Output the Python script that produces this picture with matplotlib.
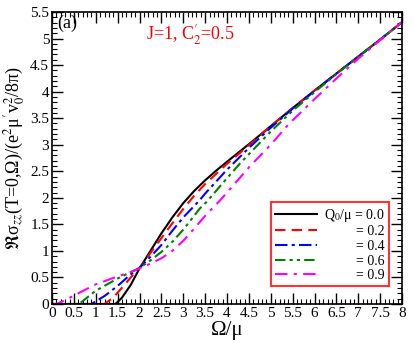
import matplotlib
matplotlib.use("Agg")
import matplotlib.pyplot as plt
from matplotlib.ticker import MultipleLocator, FormatStrFormatter

plt.rcParams['font.family'] = ['Liberation Serif', 'DejaVu Serif']
plt.rcParams['mathtext.fontset'] = 'stix'

# Q0/mu = 0.0
x_q00 = [0.0, 1.45, 1.6, 1.8, 2.0, 2.25, 2.5, 2.75, 3.0, 3.25, 3.5, 3.75, 4.0, 4.5, 5.0, 5.5, 6.0, 6.5, 7.0, 7.5, 8.0]
y_q00 = [0.0, 0.0, 0.12, 0.36, 0.67, 1.0, 1.33, 1.63, 1.9, 2.13, 2.33, 2.51, 2.68, 3.01, 3.35, 3.69, 4.02, 4.34, 4.66, 4.98, 5.31]
# Q0/mu = 0.2
x_q02 = [0.0, 1.2, 1.4, 1.55, 1.8, 2.0, 2.25, 2.5, 2.75, 3.0, 3.25, 3.5, 4.0, 4.5, 5.0, 5.5, 6.0, 6.5, 7.0, 7.5, 8.0]
y_q02 = [0.0, 0.0, 0.12, 0.26, 0.5, 0.68, 0.96, 1.24, 1.52, 1.79, 2.04, 2.26, 2.64, 2.99, 3.35, 3.69, 4.02, 4.34, 4.66, 4.98, 5.31]
# Q0/mu = 0.4
x_q04 = [0.0, 0.9, 1.2, 1.5, 1.8, 2.0, 2.25, 2.5, 2.75, 3.0, 3.38, 3.5, 4.0, 4.5, 5.0, 5.5, 6.0, 6.5, 7.0, 7.5, 8.0]
y_q04 = [0.0, 0.0, 0.15, 0.34, 0.56, 0.68, 0.89, 1.11, 1.38, 1.63, 1.96, 2.08, 2.53, 2.94, 3.32, 3.68, 4.01, 4.34, 4.66, 4.98, 5.31]
# Q0/mu = 0.6
x_q06 = [0.0, 0.62, 0.8, 1.0, 1.5, 2.0, 2.25, 2.5, 2.75, 3.0, 3.38, 3.54, 4.0, 4.3, 5.0, 5.5, 6.0, 6.5, 7.0, 7.5, 8.0]
y_q06 = [0.0, 0.0, 0.12, 0.25, 0.48, 0.68, 0.82, 0.98, 1.17, 1.4, 1.8, 1.93, 2.37, 2.65, 3.25, 3.64, 3.99, 4.33, 4.66, 4.98, 5.31]
# Q0/mu = 0.9
x_q09 = [0.0, 0.1, 0.3, 0.5, 1.0, 1.5, 1.8, 2.0, 2.25, 2.5, 2.75, 3.0, 3.25, 3.5, 3.84, 4.0, 4.53, 5.0, 5.4, 6.0, 6.58, 7.0, 7.5, 8.0]
y_q09 = [0.0, 0.0, 0.07, 0.16, 0.37, 0.52, 0.6, 0.67, 0.76, 0.86, 1.0, 1.19, 1.42, 1.66, 1.95, 2.1, 2.6, 3.0, 3.38, 3.86, 4.31, 4.62, 4.97, 5.31]

labels = [r'Q$_0$/μ = 0.0', '= 0.2', '= 0.4', '= 0.6', '= 0.9']

fig = plt.figure(figsize=(4.15, 3.46), dpi=100)
ax = fig.add_axes([0.1253, 0.1214, 0.8434, 0.8439])

lw = 1.5
ax.plot(x_q00, y_q00, color='black', lw=lw, ls='-', label=labels[0])
ax.plot(x_q02, y_q02, color='red', lw=lw, ls=(0, (5, 3)), label=labels[1])
ax.plot(x_q04, y_q04, color='blue', lw=lw, ls=(0, (6, 2, 1.5, 2)), label=labels[2])
ax.plot(x_q06, y_q06, color='green', lw=lw, ls=(0, (5, 2, 1.5, 2, 1.5, 2)), label=labels[3])
ax.plot(x_q09, y_q09, color='magenta', lw=lw, ls=(0, (6, 3, 1.5, 3)), label=labels[4])

ax.set_xlim(0, 8)
ax.set_ylim(0, 5.5)
ax.xaxis.set_major_locator(MultipleLocator(0.5))
ax.xaxis.set_minor_locator(MultipleLocator(0.1))
ax.yaxis.set_major_locator(MultipleLocator(0.5))
ax.yaxis.set_minor_locator(MultipleLocator(0.1))
ax.xaxis.set_major_formatter(FormatStrFormatter('%g'))
ax.yaxis.set_major_formatter(FormatStrFormatter('%g'))
ax.tick_params(which='both', direction='in', top=True, right=True, labelsize=11, pad=2)
ax.tick_params(which='major', length=8, width=1)
ax.tick_params(which='minor', length=3.5, width=0.8)
for s in ax.spines.values():
    s.set_linewidth(1.2)

ax.set_xlabel('Ω/μ', fontsize=15, labelpad=1)
ax.set_ylabel(r'$\Re$σ$_{zz}$(T=0,Ω)/(e$^2$μ$^{\prime}$v$_0^2$/8π)', fontsize=13, labelpad=2)

ax.text(0.015, 0.99, '(a)', transform=ax.transAxes, fontsize=13, va='top', ha='left')
ax.text(0.395, 0.965, r"J=1, C$_2^{\prime}$=0.5", transform=ax.transAxes, fontsize=13, color='red', va='top', ha='center')

leg = ax.legend(loc='lower right', bbox_to_anchor=(0.962, 0.06), fontsize=10, frameon=True,
                fancybox=False, edgecolor='red', handlelength=3.0,
                borderpad=0.3, labelspacing=0.12, handletextpad=0.5, borderaxespad=0)
leg.get_frame().set_linewidth(1.5)

fig.canvas.draw()
r = fig.canvas.get_renderer()
widths = [t.get_window_extent(r).width for t in leg.get_texts()]
wmax = max(widths)
for t, w in zip(leg.get_texts(), widths):
    t.set_position((wmax - w, 0))

fig.savefig('out.png', dpi=100)
